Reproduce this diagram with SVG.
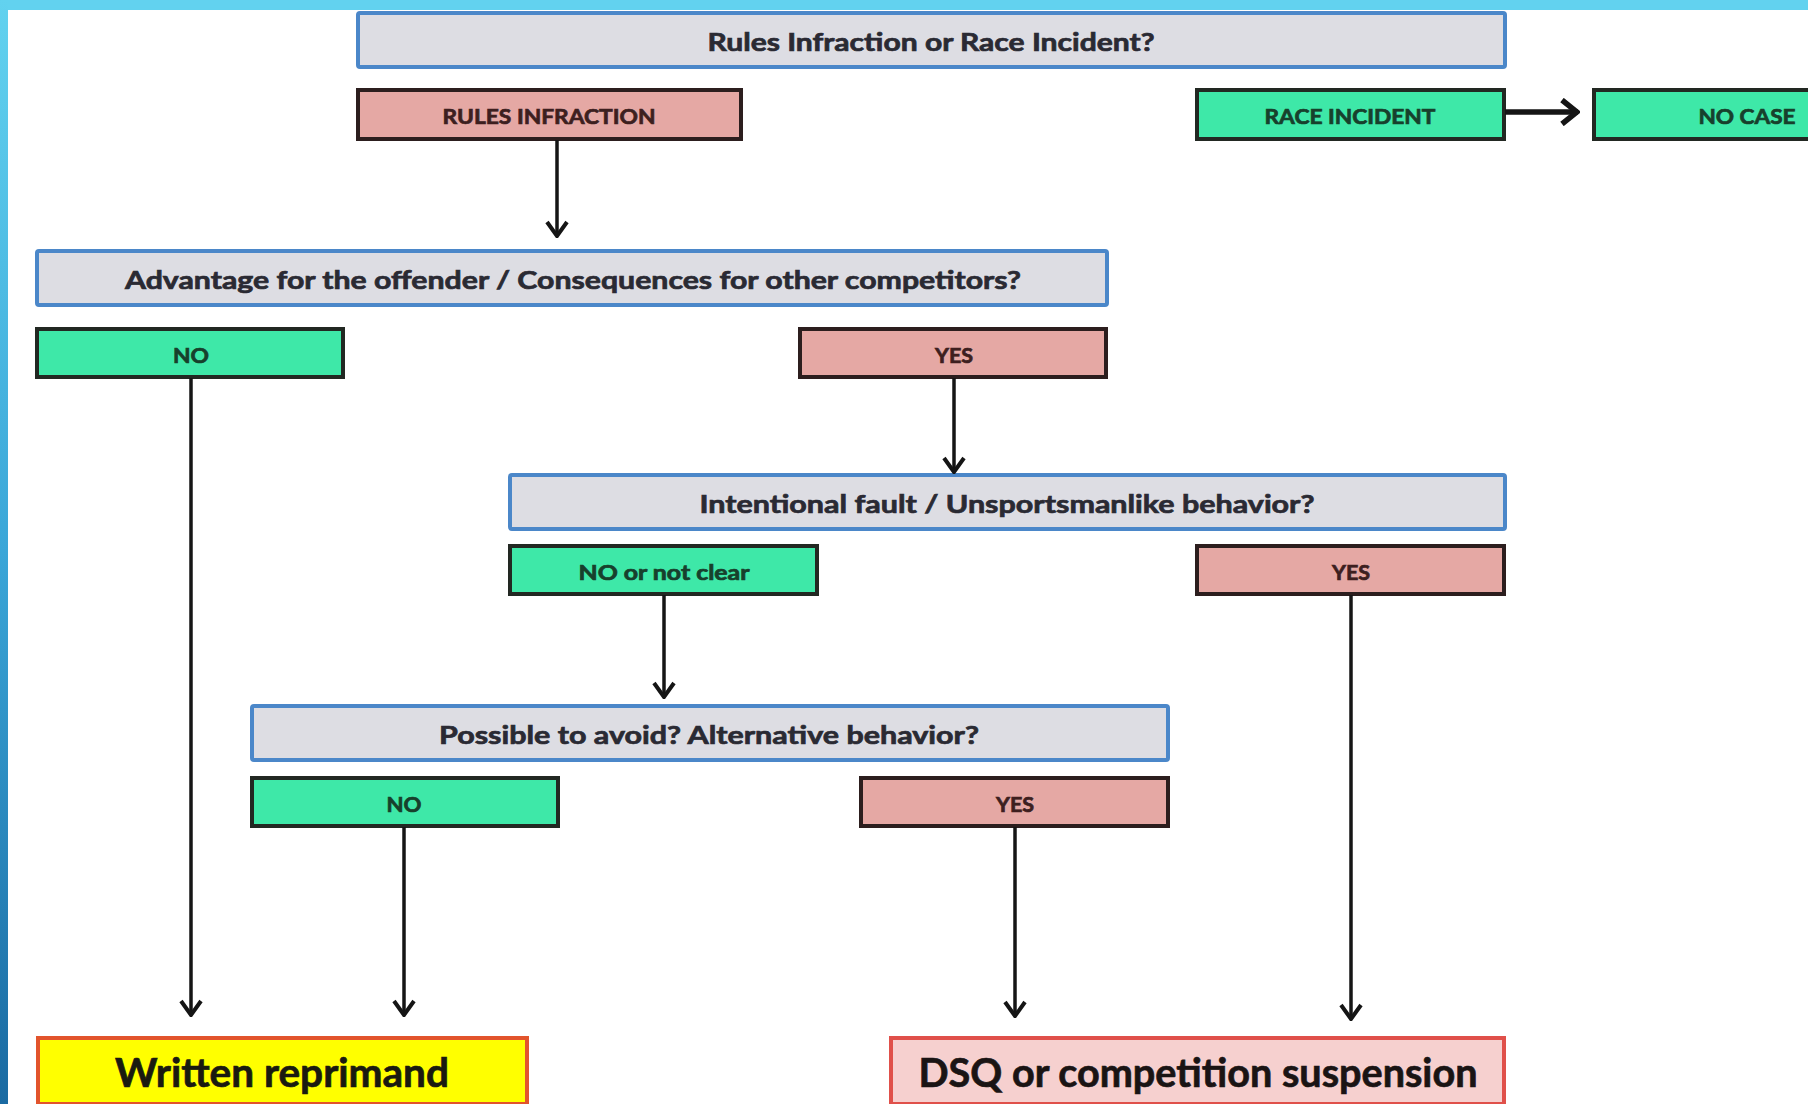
<svg xmlns="http://www.w3.org/2000/svg" width="1808" height="1104" viewBox="0 0 1808 1104">
<defs>
<linearGradient id="side" x1="0" y1="0" x2="0" y2="1">
<stop offset="0" stop-color="#62d2ef"/>
<stop offset="0.5" stop-color="#3aa6d8"/>
<stop offset="1" stop-color="#1a6aa2"/>
</linearGradient>
<marker id="arr" markerUnits="userSpaceOnUse" viewBox="-16 -12 18 24" refX="0" refY="0" markerWidth="18" markerHeight="24" orient="auto">
<path d="M -14 -10 L 0 0 L -14 10" fill="none" stroke="#151515" stroke-width="4" stroke-linejoin="miter"/>
</marker>
<marker id="arrBig" markerUnits="userSpaceOnUse" viewBox="-20 -14 22 28" refX="0" refY="0" markerWidth="22" markerHeight="28" orient="auto">
<path d="M -16 -12 L -1 0 L -16 12" fill="none" stroke="#151515" stroke-width="5.5" stroke-linejoin="miter"/>
</marker>
</defs>
<style>
text{font-family:Lato,"Open Sans","Liberation Sans",sans-serif;font-weight:700;text-anchor:middle;stroke-width:0.7px}
.q{fill:#dddde3;stroke:#4b87c9;stroke-width:4}
.qt{font-size:25px;fill:#2a2a33;stroke:#2a2a33}
.g{fill:#3ee8a8;stroke:#222822;stroke-width:4}
.gt{font-size:20px;fill:#17402c;stroke:#17402c}
.p{fill:#e5a8a4;stroke:#2c1e1e;stroke-width:4}
.pt{font-size:20px;fill:#3d1f1f;stroke:#3d1f1f}
.c line{stroke:#151515;stroke-width:3.5;marker-end:url(#arr)}
</style>
<rect x="0" y="0" width="1808" height="1104" fill="#ffffff"/>
<rect x="0" y="0" width="1808" height="10" fill="#62d2ef"/>
<rect x="0" y="0" width="8" height="1104" fill="url(#side)"/>

<g id="q1"><rect class="q" x="358" y="13" width="1147" height="54" rx="2"/><text class="qt" x="931" y="51" textLength="447" lengthAdjust="spacingAndGlyphs">Rules Infraction or Race Incident?</text></g>
<g id="rules"><rect class="p" x="358" y="90" width="383" height="49"/><text class="pt" x="549" y="124" textLength="213" lengthAdjust="spacingAndGlyphs">RULES INFRACTION</text></g>
<g id="race"><rect class="g" x="1197" y="90" width="307" height="49"/><text class="gt" x="1350" y="124" textLength="171" lengthAdjust="spacingAndGlyphs">RACE INCIDENT</text></g>
<g id="nocase"><rect class="g" x="1594" y="90" width="330" height="49"/><text class="gt" x="1747" y="124" textLength="97" lengthAdjust="spacingAndGlyphs">NO CASE</text></g>

<g id="q2"><rect class="q" x="37" y="251" width="1070" height="54" rx="2"/><text class="qt" x="573" y="289" textLength="896" lengthAdjust="spacingAndGlyphs">Advantage for the offender / Consequences for other competitors?</text></g>
<g id="no1"><rect class="g" x="37" y="329" width="306" height="48"/><text class="gt" x="191" y="363" textLength="36" lengthAdjust="spacingAndGlyphs">NO</text></g>
<g id="yes1"><rect class="p" x="800" y="329" width="306" height="48"/><text class="pt" x="954" y="363" textLength="38" lengthAdjust="spacingAndGlyphs">YES</text></g>

<g id="q3"><rect class="q" x="510" y="475" width="995" height="54" rx="2"/><text class="qt" x="1007" y="513" textLength="615" lengthAdjust="spacingAndGlyphs">Intentional fault / Unsportsmanlike behavior?</text></g>
<g id="no2"><rect class="g" x="510" y="546" width="307" height="48"/><text class="gt" x="664" y="580" textLength="171" lengthAdjust="spacingAndGlyphs">NO or not clear</text></g>
<g id="yes2"><rect class="p" x="1197" y="546" width="307" height="48"/><text class="pt" x="1351" y="580" textLength="38" lengthAdjust="spacingAndGlyphs">YES</text></g>

<g id="q4"><rect class="q" x="252" y="706" width="916" height="54" rx="2"/><text class="qt" x="709" y="744" textLength="540" lengthAdjust="spacingAndGlyphs">Possible to avoid? Alternative behavior?</text></g>
<g id="no3"><rect class="g" x="252" y="778" width="306" height="48"/><text class="gt" x="404" y="812" textLength="35" lengthAdjust="spacingAndGlyphs">NO</text></g>
<g id="yes3"><rect class="p" x="861" y="778" width="307" height="48"/><text class="pt" x="1015" y="812" textLength="38" lengthAdjust="spacingAndGlyphs">YES</text></g>

<g id="written"><rect x="38" y="1038" width="489" height="66" fill="#ffff00" stroke="#e2542c" stroke-width="4"/><text x="282" y="1087" font-size="40" fill="#1a1a10" stroke="#1a1a10" textLength="334" lengthAdjust="spacingAndGlyphs">Written reprimand</text></g>
<g id="dsq"><rect x="891" y="1038" width="613" height="66" fill="#f6d0cf" stroke="#e0504a" stroke-width="4"/><text x="1198" y="1087" font-size="40" fill="#1a1414" stroke="#1a1414" textLength="559" lengthAdjust="spacingAndGlyphs">DSQ or competition suspension</text></g>

<g id="connectors" class="c">
<line x1="1505" y1="112" x2="1578" y2="112" style="stroke-width:5.5;marker-end:url(#arrBig)"/>
<line x1="557" y1="140" x2="557" y2="236"/>
<line x1="954" y1="378" x2="954" y2="472"/>
<line x1="664" y1="595" x2="664" y2="697"/>
<line x1="191" y1="378" x2="191" y2="1015"/>
<line x1="404" y1="827" x2="404" y2="1015"/>
<line x1="1015" y1="827" x2="1015" y2="1016"/>
<line x1="1351" y1="595" x2="1351" y2="1019"/>
</g>
</svg>
